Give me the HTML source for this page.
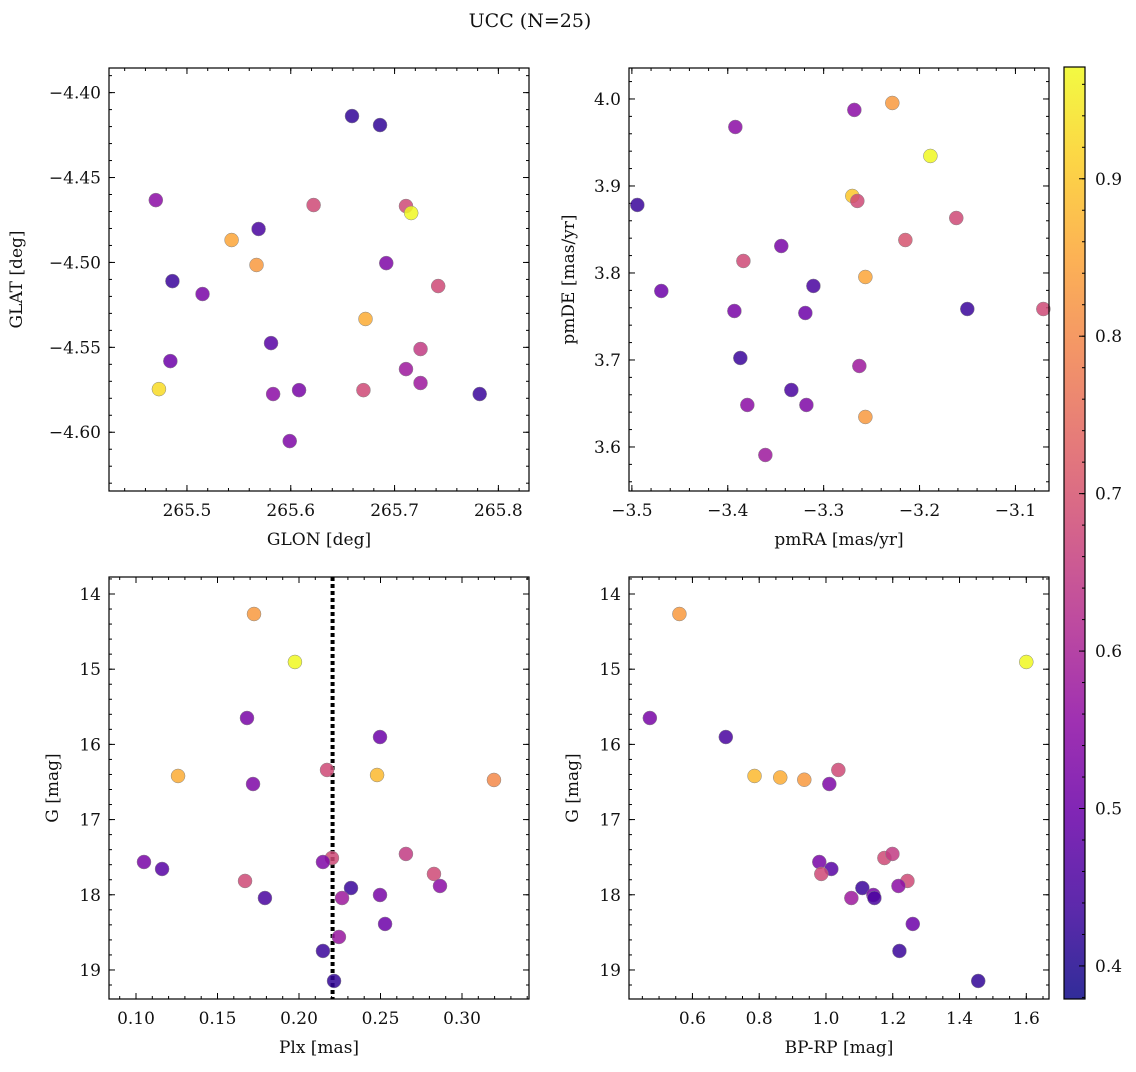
<!DOCTYPE html>
<html><head><meta charset="utf-8"><style>
html,body{margin:0;padding:0;background:#fff;}
svg text{font-family:"DejaVu Serif","Liberation Serif",serif;fill:#111;}
</style></head><body>
<svg id="fig" width="1136" height="1067" viewBox="0 0 1136 1067" xmlns="http://www.w3.org/2000/svg">
<text x="530" y="27" font-size="19" text-anchor="middle">UCC (N=25)</text>
<defs><linearGradient id="cmap" x1="0" y1="1" x2="0" y2="0"></linearGradient></defs>
</svg>
<script>
// Panel 1 data
const glon = [265.659,265.686,265.470,265.622,265.711,265.716,265.543,265.569,265.567,265.692,265.486,265.515,265.742,265.672,265.581,265.725,265.484,265.711,265.725,265.473,265.583,265.608,265.670,265.782,265.599];
const glat = [-4.4138,-4.4191,-4.4633,-4.4662,-4.4668,-4.4709,-4.4868,-4.4803,-4.5015,-4.5004,-4.5110,-4.5186,-4.5139,-4.5333,-4.5475,-4.5510,-4.5581,-4.5628,-4.5710,-4.5746,-4.5775,-4.5752,-4.5752,-4.5775,-4.6052];
const prob1 = [0.42,0.42,0.55,0.68,0.68,0.97,0.85,0.45,0.83,0.53,0.43,0.52,0.68,0.86,0.47,0.65,0.50,0.58,0.58,0.93,0.55,0.52,0.68,0.43,0.53];
// Panel 2 data
const pmra = [-3.2284,-3.2680,-3.3921,-3.1887,-3.2701,-3.2649,-3.4943,-3.1617,-3.2148,-3.3442,-3.3837,-3.2565,-3.3107,-3.4693,-3.1502,-3.0709,-3.3931,-3.3191,-3.2628,-3.3869,-3.3337,-3.3796,-3.3180,-3.2565,-3.3608];
const pmde = [3.9954,3.9874,3.9678,3.9345,3.8885,3.8828,3.8782,3.8632,3.8379,3.8310,3.8138,3.7954,3.7851,3.7793,3.7586,3.7586,3.7563,3.7540,3.6931,3.7023,3.6655,3.6483,3.6483,3.6345,3.5908];
const prob2 = [0.83,0.55,0.55,0.97,0.90,0.68,0.43,0.68,0.70,0.52,0.68,0.85,0.45,0.50,0.43,0.68,0.52,0.50,0.58,0.43,0.45,0.55,0.53,0.83,0.58];
// Panel 3 data
const plx = [0.1724,0.1975,0.1681,0.2497,0.1258,0.1718,0.2479,0.2172,0.3196,0.1049,0.1160,0.1669,0.2202,0.2147,0.2656,0.2828,0.2865,0.1791,0.2319,0.2497,0.2264,0.2528,0.2245,0.2147,0.2215];
const gmag3 = [14.266,14.904,15.649,15.902,16.420,16.527,16.407,16.340,16.473,17.564,17.657,17.816,17.511,17.564,17.457,17.723,17.883,18.043,17.910,18.003,18.043,18.388,18.561,18.747,19.146];
const prob3 = [0.83,0.97,0.52,0.50,0.86,0.53,0.88,0.68,0.80,0.52,0.47,0.68,0.68,0.53,0.65,0.68,0.55,0.45,0.43,0.52,0.58,0.50,0.57,0.43,0.42];
const plxLine = 0.2206;
// Panel 4 data
const bprp = [0.561,1.600,0.4725,0.700,0.786,0.863,0.935,1.037,1.010,0.980,1.016,0.986,1.175,1.199,1.244,1.217,1.109,1.142,1.076,1.145,1.260,1.220,1.456];
const gmag4 = [14.266,14.904,15.649,15.902,16.42,16.44,16.47,16.340,16.527,17.564,17.657,17.723,17.511,17.457,17.816,17.883,17.910,18.003,18.043,18.043,18.388,18.747,19.146];
const prob4 = [0.83,0.97,0.52,0.45,0.88,0.86,0.83,0.68,0.53,0.52,0.47,0.68,0.68,0.65,0.68,0.55,0.43,0.52,0.58,0.45,0.50,0.43,0.42];
// colorbar
const cbTicks = [0.4,0.5,0.6,0.7,0.8,0.9];
const vmin = 0.379, vmax = 0.971;

const NS = "http://www.w3.org/2000/svg";
const svg = document.getElementById('fig');
function mk(tag, attrs, parent){const e=document.createElementNS(NS,tag);for(const k in attrs)e.setAttribute(k,attrs[k]);(parent||svg).appendChild(e);return e;}
const stops=["#0d0887","#41049d","#6a00a8","#8f0da4","#b12a90","#cc4778","#e16462","#f2844b","#fca636","#fcce25","#f0f921"];
function hex(h){return [parseInt(h.substr(1,2),16),parseInt(h.substr(3,2),16),parseInt(h.substr(5,2),16)];}
function plasma(t){t=Math.max(0,Math.min(1,t));const p=t*10;const i=Math.min(9,Math.floor(p));const f=p-i;const a=hex(stops[i]),b=hex(stops[i+1]);return `rgb(${Math.round(a[0]+(b[0]-a[0])*f)},${Math.round(a[1]+(b[1]-a[1])*f)},${Math.round(a[2]+(b[2]-a[2])*f)})`;}
function cval(v){return plasma((v-vmin)/(vmax-vmin));}

function fmt(v,d){let s=v.toFixed(d);if(v<0)s='\u2212'+s.substring(1);return s;}

function panel(o){
  const {L,T,R,B,x0,x1,y0,y1,invY,name}=o;
  const g=mk('g',{});
  
  
  const sx=v=>L+(v-x0)/(x1-x0)*(R-L);
  const sy=v=>invY? T+(v-y0)/(y1-y0)*(B-T) : B-(v-y0)/(y1-y0)*(B-T);
  function ticks(step,minor,lo,hi,fn){const n0=Math.ceil(lo/step-1e-9),n1=Math.floor(hi/step+1e-9);for(let n=n0;n<=n1;n++)fn(n*step,minor);}
  const tg=mk('g',{stroke:'#000','stroke-width':1},g);
  ticks(o.xminor,true,x0,x1,(v)=>{const x=sx(v);mk('line',{x1:x,x2:x,y1:B,y2:B-3},tg);mk('line',{x1:x,x2:x,y1:T,y2:T+3},tg);});
  ticks(o.yminor,true,Math.min(y0,y1),Math.max(y0,y1),(v)=>{const y=sy(v);mk('line',{x1:L,x2:L+3,y1:y,y2:y},tg);mk('line',{x1:R,x2:R-3,y1:y,y2:y},tg);});
  ticks(o.xmajor,false,x0,x1,(v)=>{const x=sx(v);mk('line',{x1:x,x2:x,y1:B,y2:B-6},tg);mk('line',{x1:x,x2:x,y1:T,y2:T+6},tg);
    const t=mk('text',{x:x,y:B+25,'font-size':17,'text-anchor':'middle'},g);t.textContent=fmt(v,o.xdec);
    
    });
  ticks(o.ymajor,false,Math.min(y0,y1),Math.max(y0,y1),(v)=>{const y=sy(v);mk('line',{x1:L,x2:L+6,y1:y,y2:y},tg);mk('line',{x1:R,x2:R-6,y1:y,y2:y},tg);
    const t=mk('text',{x:L-8,y:y+6,'font-size':17,'text-anchor':'end'},g);t.textContent=fmt(v,o.ydec);
    
    });
  if(o.vline!==undefined){const x=sx(o.vline);const l=mk('line',{x1:x,x2:x,y1:T,y2:B,stroke:'#000','stroke-width':4,'stroke-dasharray':'4,3'},g);
    
    }
  for(let i=0;i<o.xs.length;i++){
    const c=mk('circle',{cx:sx(o.xs[i]),cy:sy(o.ys[i]),r:7,fill:cval(o.cs[i]),'fill-opacity':0.85,stroke:'#888','stroke-width':0.5},g);
    
    
  }
  const fr=mk('rect',{x:L,y:T,width:R-L,height:B-T,fill:'none',stroke:'#000','stroke-width':1.2},g);
  
  
  const xl=mk('text',{x:(L+R)/2,y:B+54,'font-size':17,'text-anchor':'middle'},g);xl.textContent=o.xlabel;
  
  
  const yx=o.ylx,yy=(T+B)/2;
  const yl=mk('text',{x:yx,y:yy,'font-size':17,'text-anchor':'middle',transform:`rotate(-90 ${yx} ${yy})`},g);yl.textContent=o.ylabel;
  
  
}

panel({name:'panel-glon-glat',L:109,T:68,R:529,B:491,x0:265.4249,x1:265.8295,y0:-4.6346,y1:-4.3855,xmajor:0.1,xminor:0.02,ymajor:0.05,yminor:0.01,xdec:1,ydec:2,xs:glon,ys:glat,cs:prob1,xlabel:'GLON [deg]',ylabel:'GLAT [deg]',ylx:22});
panel({name:'panel-pmra-pmde',L:629,T:68,R:1049,B:491,x0:-3.503,x1:-3.065,y0:3.5494,y1:4.0356,xmajor:0.1,xminor:0.02,ymajor:0.1,yminor:0.02,xdec:1,ydec:1,xs:pmra,ys:pmde,cs:prob2,xlabel:'pmRA [mas/yr]',ylabel:'pmDE [mas/yr]',ylx:574});
panel({name:'panel-plx-g',L:109,T:577,R:529,B:999,x0:0.08344,x1:0.3411,y0:13.774,y1:19.386,invY:true,xmajor:0.05,xminor:0.01,ymajor:1,yminor:0.2,xdec:2,ydec:0,xs:plx,ys:gmag3,cs:prob3,xlabel:'Plx [mas]',ylabel:'G [mag]',ylx:58,vline:plxLine});
panel({name:'panel-bprp-g',L:629,T:577,R:1049,B:999,x0:0.41,x1:1.668,y0:13.774,y1:19.386,invY:true,xmajor:0.2,xminor:0.05,ymajor:1,yminor:0.2,xdec:1,ydec:0,xs:bprp,ys:gmag4,cs:prob4,xlabel:'BP-RP [mag]',ylabel:'G [mag]',ylx:578});

const grad=document.getElementById('cmap');
for(let k=0;k<=10;k++){mk('stop',{offset:(k*10)+'%','stop-color':stops[k]},grad);}
const CL=1064,CR=1085,CT=67,CB=999;
const cb=mk('rect',{x:CL,y:CT,width:CR-CL,height:CB-CT,fill:'url(#cmap)','fill-opacity':0.85,stroke:'#000','stroke-width':1.2});


const cy=v=>CB-(v-vmin)/(vmax-vmin)*(CB-CT);
for(let v=0.38;v<=0.97;v+=0.02){const y=cy(v);mk('line',{x1:CR,x2:CR-3,y1:y,y2:y,stroke:'#000','stroke-width':1});}
cbTicks.forEach(v=>{const y=cy(v);mk('line',{x1:CR,x2:CR-6,y1:y,y2:y,stroke:'#000','stroke-width':1});
  const t=mk('text',{x:CR+10,y:y+6,'font-size':17},svg);t.textContent=v.toFixed(1);
  
  });
</script>
</body></html>
